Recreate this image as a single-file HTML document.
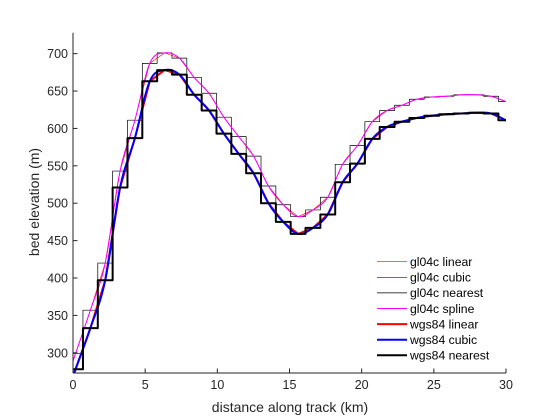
<!DOCTYPE html>
<html><head><meta charset="utf-8"><style>
html,body{margin:0;padding:0;background:#fff;}
svg{display:block;font-family:"Liberation Sans",sans-serif;}
</style></head><body>
<svg id="chart" width="560" height="420" viewBox="0 0 560 420"></svg>
<script>
const sampleStart = 0.176, sampleStep = 1.028;
const gl04cValues = [299,357,420,543,611,687,701,694,668,647,615,589,563,523,498,482,491,508,552,577,609,624,631,639,642,643,645,645,643,636];
const wgs84Values = [278,333,397,521,587,663,678,672,645,624,593,566,540,500,475,459,467,485,528,553,586,602,609,614,617,619,620,621,620,611];
const xTicks = [0,5,10,15,20,25,30];
const yTicks = [300,350,400,450,500,550,600,650,700];
const legendLabels = ['gl04c linear','gl04c cubic','gl04c nearest','gl04c spline','wgs84 linear','wgs84 cubic','wgs84 nearest'];

const X0=73,X1=506,YB=373,YT=32.7, xmin=0,xmax=30,ymin=273,ymax=728;
const sx=v=>X0+(v-xmin)/(xmax-xmin)*(X1-X0);
const sy=v=>YB-(v-ymin)/(ymax-ymin)*(YB-YT);
const NS='http://www.w3.org/2000/svg';
const svg=document.getElementById('chart');
function mk(tag,attrs,parent){const e=document.createElementNS(NS,tag);for(const k in attrs)e.setAttribute(k,attrs[k]);(parent||svg).appendChild(e);return e;}

const defs=mk('defs',{});
const cp=mk('clipPath',{id:'plotclip'},defs);
mk('rect',{x:X0,y:YT,width:X1-X0,height:YB-YT},cp);
const plot=mk('g',{'clip-path':'url(#plotclip)'});



function xs(vals){return vals.map((v,i)=>sampleStart+i*sampleStep);}
function linearPts(vals){
  const x=xs(vals);const pts=[];
  const s0=(vals[1]-vals[0])/sampleStep;
  pts.push([0,vals[0]-s0*x[0]]);
  vals.forEach((v,i)=>pts.push([x[i],v]));
  const n=vals.length;const sn=(vals[n-1]-vals[n-2])/sampleStep;
  pts.push([30,vals[n-1]+sn*(30-x[n-1])]);
  return pts;
}
function smoothPts(vals){
  const x=xs(vals);const n=vals.length;
  const ext=[2*vals[0]-vals[1],...vals,2*vals[n-1]-vals[n-2]];
  const pts=[];
  for(let i=-1;i<n;i++){
    const p0=ext[i],p1=ext[i+1],p2=ext[i+2],p3=ext[i+3];
    if(p1===undefined||p2===undefined)continue;
    const a=p0===undefined?2*p1-p2:p0, d=p3===undefined?2*p2-p1:p3;
    const xa=sampleStart+i*sampleStep;
    for(let k=0;k<10;k++){const t=k/10;
      const y=0.5*((2*p1)+(-a+p2)*t+(2*a-5*p1+4*p2-d)*t*t+(-a+3*p1-3*p2+d)*t*t*t);
      pts.push([xa+t*sampleStep,y]);}
  }
  pts.push([sampleStart+(n)*sampleStep,2*vals[n-1]-vals[n-2]]);
  return pts;
}
function nearestPts(vals){
  const pts=[];const n=vals.length;
  for(let i=0;i<n;i++){
    const a=Math.max(0,sampleStart+(i-0.5)*sampleStep), b=Math.min(30,sampleStart+(i+0.5)*sampleStep);
    pts.push([a,vals[i]],[b,vals[i]]);
  }
  return pts;
}
function path(pts,color,w,name){
  const d=pts.map((p,i)=>(i?'L':'M')+sx(p[0]).toFixed(2)+' '+sy(p[1]).toFixed(2)).join('');
  const e=mk('path',{d:d,fill:'none',stroke:color,'stroke-width':w,'stroke-linejoin':'round'},plot);
  
  
}
path(linearPts(gl04cValues),'#ff0000',0.6,'gl04c-linear-line');
path(smoothPts(gl04cValues),'#0000ff',0.6,'gl04c-cubic-line');
path(nearestPts(gl04cValues),'#000000',0.7,'gl04c-nearest-line');
path(smoothPts(gl04cValues),'#ff00ff',1,'gl04c-spline-line');
path(linearPts(wgs84Values),'#ff0000',2,'wgs84-linear-line');
path(smoothPts(wgs84Values),'#0000ff',2,'wgs84-cubic-line');
path(nearestPts(wgs84Values),'#000000',2,'wgs84-nearest-line');

// axes
const ax=mk('g',{});


mk('line',{x1:X0,y1:YT,x2:X0,y2:YB,stroke:'#262626','stroke-width':1},ax);
mk('line',{x1:X0,y1:YB,x2:X1,y2:YB,stroke:'#262626','stroke-width':1},ax);
xTicks.forEach(t=>{
  mk('line',{x1:sx(t),y1:YB,x2:sx(t),y2:YB-4.5,stroke:'#262626','stroke-width':1},ax);
  const tx=mk('text',{x:sx(t),y:YB+16,'text-anchor':'middle','font-size':12.5,fill:'#262626'},ax);
  tx.textContent=t;
  
  
});
yTicks.forEach(t=>{
  mk('line',{x1:X0,y1:sy(t),x2:X0+4.5,y2:sy(t),stroke:'#262626','stroke-width':1},ax);
  const tx=mk('text',{x:X0-5,y:sy(t)+4.5,'text-anchor':'end','font-size':12.5,fill:'#262626'},ax);
  tx.textContent=t;
  
  
});
const xl=mk('text',{x:290,y:412,'text-anchor':'middle','font-size':14,fill:'#262626'});
xl.textContent='distance along track (km)';


const yl=mk('text',{x:0,y:0,'text-anchor':'middle','font-size':14,fill:'#262626',transform:'translate(39,202) rotate(-90)'});
yl.textContent='bed elevation (m)';



// legend
const lg=mk('g',{});


const lcolors=['#ff0000','#0000ff','#000000','#ff00ff','#ff0000','#0000ff','#000000'];
const lw=[0.6,0.6,0.7,1,2,2,2];
legendLabels.forEach((lab,i)=>{
  const y=261.7+i*15.6;
  const g=mk('g',{},lg);
  
  
  mk('line',{x1:377,y1:y,x2:407,y2:y,stroke:lcolors[i],'stroke-width':lw[i]},g);
  const t=mk('text',{x:410,y:y+4.3,'font-size':12.2,fill:'#000'},g);
  t.textContent=lab;
});
</script>
</body></html>
